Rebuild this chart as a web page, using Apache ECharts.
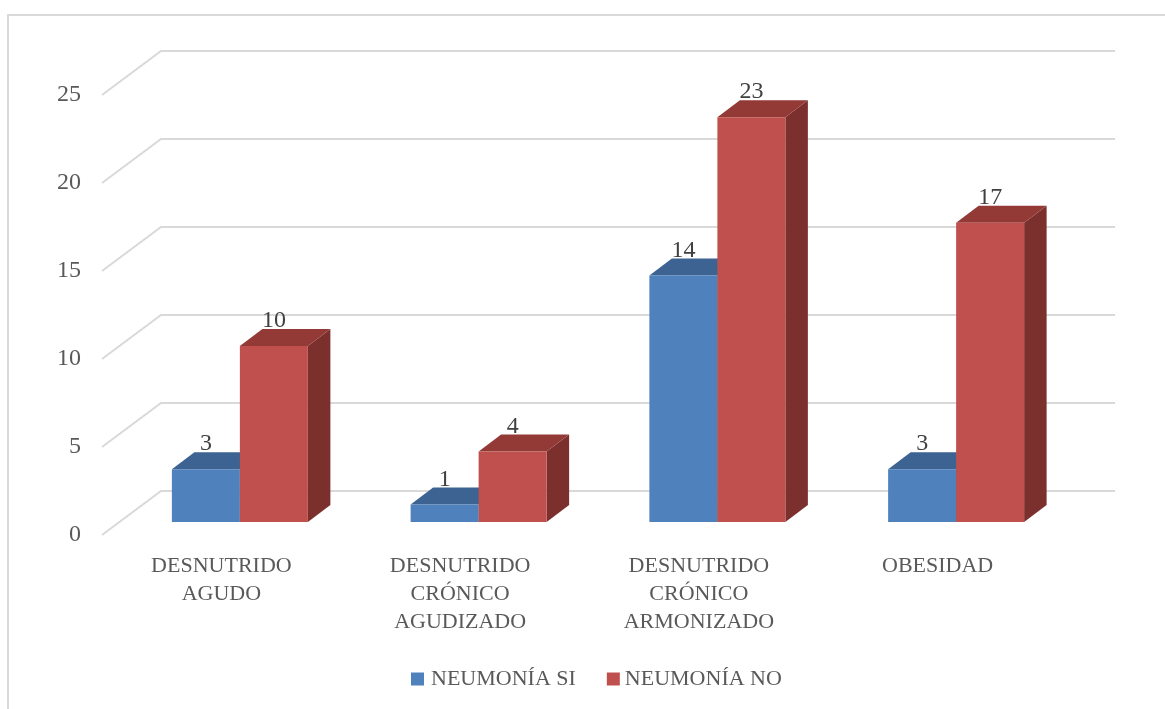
<!DOCTYPE html>
<html>
<head>
<meta charset="utf-8">
<style>
  html, body { margin: 0; padding: 0; background: #fff; }
  #main { width: 1165px; height: 709px; }
</style>
<script src="https://cdn.jsdelivr.net/npm/echarts@6/dist/echarts.min.js"></script>
</head>
<body>
<div id="main"></div>
<script>
const categories = ['DESNUTRIDO\nAGUDO', 'DESNUTRIDO\nCRÓNICO\nAGUDIZADO', 'DESNUTRIDO\nCRÓNICO\nARMONIZADO', 'OBESIDAD'];
const neumoniaSi = [3, 1, 14, 3];
const neumoniaNo = [10, 4, 23, 17];
const yTicks = [0, 5, 10, 15, 20, 25];

const FONT = 'Liberation Serif';
const TEXT = '#595959';
const GRID_LINE = '#D9D9D9';

// fake 3d: offsets in px from the axis plane
const WALL_DX = 59, WALL_DY = -44, WALL_RIGHT = 1115;
const FACE_DX = 18.5, FACE_DY = -13;
const DEPTH_DX = 22.5, DEPTH_DY = -17;
const BAR_RATIO = 68 / 238.75;

const chart = echarts.init(document.getElementById('main'));

const renderWall = (params, api) => {
  const p = api.coord([0, api.value(1)]);
  const x0 = params.coordSys.x;
  return {
    type: 'polyline',
    silent: true,
    shape: { points: [[x0, p[1]], [x0 + WALL_DX, p[1] + WALL_DY], [WALL_RIGHT, p[1] + WALL_DY]] },
    style: { fill: 'none', stroke: GRID_LINE, lineWidth: 2 }
  };
};

// side = -1 left of band centre, side = 1 right of it
const barRenderer = (side, front, top, right) => (params, api) => {
  const value = api.value(1);
  const c = api.coord([api.value(0), value]);
  const base = api.coord([api.value(0), 0]);
  const w = api.size([1, 0])[0] * BAR_RATIO;
  const xc = c[0] + FACE_DX;
  const x1 = side < 0 ? xc - w : xc;
  const x2 = x1 + w;
  const yt = c[1] + FACE_DY;
  const yb = base[1] + FACE_DY;
  const dx = DEPTH_DX, dy = DEPTH_DY;
  return {
    type: 'group',
    children: [
      {
        type: 'polygon',
        shape: { points: [[x2, yt], [x2 + dx, yt + dy], [x2 + dx, yb + dy], [x2, yb]] },
        style: { fill: right }
      },
      {
        type: 'polygon',
        shape: { points: [[x1, yt], [x1 + dx, yt + dy], [x2 + dx, yt + dy], [x2, yt]] },
        style: { fill: top }
      },
      {
        type: 'rect',
        shape: { x: x1, y: yt, width: w, height: yb - yt },
        style: { fill: front }
      },
      {
        type: 'text',
        z2: 10,
        style: {
          x: x1 + w / 2,
          y: yt - 25,
          text: String(value),
          fill: '#404040',
          font: '24px "' + FONT + '"',
          textAlign: 'center',
          textVerticalAlign: 'middle'
        }
      }
    ]
  };
};

const op = {
  animation: false,
  backgroundColor: '#fff',
  textStyle: { fontFamily: FONT },
  graphic: [
    {
      type: 'polyline',
      silent: true,
      shape: { points: [[8, 709], [8, 15], [1165, 15]] },
      style: { fill: 'none', stroke: GRID_LINE, lineWidth: 2 }
    }
  ],
  grid: { left: 102, top: 95, width: 955, height: 440 },
  legend: {
    left: 406,
    top: 663,
    icon: 'rect',
    itemWidth: 13,
    itemHeight: 13,
    itemGap: 31,
    selectedMode: false,
    data: [
      { name: 'NEUMONÍA SI', textStyle: { padding: [0, 0, 0, 2] } },
      { name: 'NEUMONÍA NO', textStyle: { padding: [0, 0, 0, 0] } }
    ],
    textStyle: { color: TEXT, fontFamily: FONT, fontSize: 22 }
  },
  xAxis: {
    type: 'category',
    data: categories,
    axisLine: { show: false },
    axisTick: { show: false },
    splitLine: { show: false },
    axisLabel: { interval: 0, color: TEXT, fontFamily: FONT, fontSize: 22, lineHeight: 28, margin: 17 }
  },
  yAxis: {
    type: 'value',
    min: 0,
    max: 25,
    interval: 5,
    axisLine: { show: false },
    axisTick: { show: false },
    splitLine: { show: false },
    axisLabel: { color: TEXT, fontFamily: FONT, fontSize: 24, margin: 21, padding: [2, 0, 0, 0] }
  },
  series: [
    {
      name: 'wall',
      type: 'custom',
      silent: true,
      clip: false,
      renderItem: renderWall,
      encode: { x: 0, y: 1 },
      data: yTicks.map((v) => [0, v])
    },
    {
      name: 'NEUMONÍA SI',
      type: 'custom',
      clip: false,
      itemStyle: { color: '#4F81BD' },
      renderItem: barRenderer(-1, '#4F81BD', '#3C6392', '#345578'),
      encode: { x: 0, y: 1 },
      data: neumoniaSi.map((v, i) => [i, v])
    },
    {
      name: 'NEUMONÍA NO',
      type: 'custom',
      clip: false,
      itemStyle: { color: '#C0504D' },
      renderItem: barRenderer(1, '#C0504D', '#933A37', '#7C302D'),
      encode: { x: 0, y: 1 },
      data: neumoniaNo.map((v, i) => [i, v])
    }
  ]
};

chart.setOption(op);
</script>
</body>
</html>
